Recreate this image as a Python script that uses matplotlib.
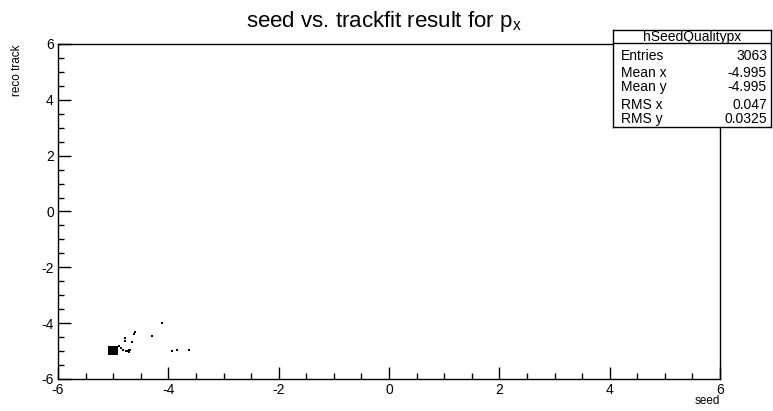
import matplotlib.pyplot as plt
import numpy as np
from matplotlib.ticker import MultipleLocator

plt.rcParams["font.family"] = ["Liberation Sans", "DejaVu Sans"]
plt.rcParams["axes.unicode_minus"] = False
plt.rcParams["mathtext.fontset"] = "custom"
plt.rcParams["mathtext.rm"] = "Liberation Sans"

W, H = 773, 411

# dense core of the seed/reco distribution (px)
core_x = [-5.04, -5.00, -4.96, -5.04, -5.00, -4.96, -5.04, -5.00, -4.96]
core_y = [-4.92, -4.92, -4.92, -4.98, -4.98, -4.98, -5.04, -5.04, -5.04]

# scattered entries away from the core
tail_x = [-4.11, -4.61, -4.62, -4.29, -4.78, -4.78, -4.65, -4.89, -4.85,
          -4.82, -4.77, -4.74, -4.72, -4.70, -4.72, -3.94, -3.84, -3.62]
tail_y = [-4.00, -4.32, -4.40, -4.47, -4.54, -4.65, -4.68, -4.83, -4.90,
          -4.97, -5.00, -5.00, -4.97, -4.97, -5.04, -5.00, -4.97, -4.97]

stats_names = ["Entries", "Mean x", "Mean y", "RMS x", "RMS y"]
stats_vals = ["3063", "-4.995", "-4.995", "0.047", "0.0325"]

fig = plt.figure(figsize=(W / 100, H / 100), dpi=100)
ax = fig.add_axes([58 / W, 1 - 379 / H, (720 - 58) / W, (379 - 44) / H])

ax.scatter(core_x, core_y, s=16, marker="s", c="black", linewidths=0)
ax.scatter(tail_x, tail_y, s=1.2, marker="s", c="black", linewidths=0)

ax.set_xlim(-6, 6)
ax.set_ylim(-6, 6)
ax.xaxis.set_major_locator(MultipleLocator(2))
ax.xaxis.set_minor_locator(MultipleLocator(0.5))
ax.yaxis.set_major_locator(MultipleLocator(2))
ax.yaxis.set_minor_locator(MultipleLocator(0.5))
ax.tick_params(which="both", direction="in", top=False, right=False,
               labelsize=10, width=1, pad=3)
ax.tick_params(which="major", length=9)
ax.tick_params(which="minor", length=4.5)
for sp in ax.spines.values():
    sp.set_linewidth(1)

fig.text(384 / W, 1 - 21 / H, "seed vs. trackfit result for p$_\\mathregular{x}$",
         ha="center", va="center", fontsize=16)
fig.text(720 / W, 1 - 401 / H, "seed", ha="right", va="center", fontsize=8.5)
fig.text(17 / W, 1 - 44 / H, "reco track", ha="center", va="top",
         rotation=90, fontsize=8.5)

# statistics box
bx0, bx1, by0, by1, hy = 613, 771, 30, 127, 43
box = fig.add_axes([bx0 / W, 1 - by1 / H, (bx1 - bx0) / W, (by1 - by0) / H])
box.set_xlim(bx0, bx1)
box.set_ylim(by1, by0)
box.set_xticks([])
box.set_yticks([])
for sp in box.spines.values():
    sp.set_linewidth(1)
box.axhline(hy, color="black", linewidth=1)
box.text((bx0 + bx1) / 2, (by0 + hy) / 2 + 0.5, "hSeedQualitypx", ha="center",
         va="center", fontsize=10)
rows_y = [56, 73, 87, 105, 119]
for name, val, ry in zip(stats_names, stats_vals, rows_y):
    box.text(bx0 + 8, ry, name, ha="left", va="center", fontsize=10)
    box.text(bx1 - 4, ry, val, ha="right", va="center", fontsize=10)

fig.savefig("out.png", dpi=100)
